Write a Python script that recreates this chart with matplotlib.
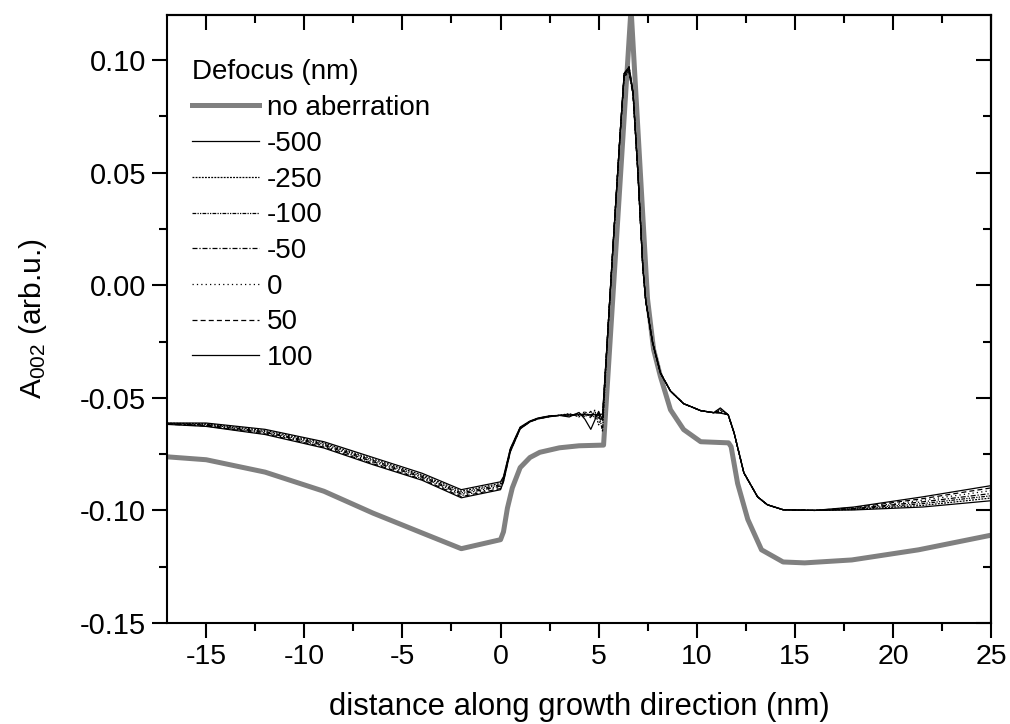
import matplotlib
matplotlib.use("Agg")
import matplotlib.pyplot as plt
from matplotlib.ticker import MultipleLocator, FormatStrFormatter

plt.rcParams["axes.unicode_minus"] = False
REG = "Liberation Sans"

# ---- data ----
x_ref = [-17, -15, -12, -9, -6.5, -4, -2, 0, 0.15, 0.35, 0.6, 1.0, 1.5, 2.0, 3.0, 4.0,
         5.25, 6.65, 7.49, 7.8, 8.15, 8.66, 9.33, 10.2, 11.62, 11.75, 12.08, 12.6, 13.3,
         14.4, 15.5, 17.9, 21.3, 25]
y_ref = [-0.0762, -0.0775, -0.0830, -0.0915, -0.1012, -0.1100, -0.1170, -0.1130, -0.1095,
         -0.0990, -0.0900, -0.0810, -0.0765, -0.0742, -0.0722, -0.0713, -0.0710, 0.1230,
         -0.0060, -0.0286, -0.0406, -0.0553, -0.0641, -0.0695, -0.0700, -0.0717, -0.0880,
         -0.1040, -0.1175, -0.1229, -0.1233, -0.1220, -0.1175, -0.1110]

x_def = [-17, -15, -12, -9, -6.5, -4, -2, 0, 0.15, 0.5, 1.0, 1.5, 1.9, 2.5, 3.0, 3.5, 4.0,
         4.3, 4.6, 4.8, 5.0, 5.2, 5.45, 5.75, 6.1, 6.3, 6.55, 6.75, 7.0, 7.25, 7.4, 7.75,
         8.15, 8.66, 9.33, 10.2, 10.86, 11.2, 11.6, 11.9, 12.4, 13.1, 13.6, 14.4, 16.0,
         18.0, 21.5, 25]

y_m500 = [-0.0612, -0.0612, -0.0640, -0.0695, -0.0765, -0.0835, -0.0908, -0.0873, -0.0850,
          -0.0725, -0.0630, -0.0603, -0.0590, -0.0580, -0.0578, -0.0585, -0.0565, -0.0595,
          -0.0640, -0.0600, -0.0560, -0.0600, -0.0230, 0.0200, 0.0680, 0.0940, 0.0970,
          0.0860, 0.0500, 0.0080, -0.0070, -0.0255, -0.0390, -0.0470, -0.0526, -0.0557,
          -0.0566, -0.0545, -0.0575, -0.0655, -0.0833, -0.0940, -0.0975, -0.0997, -0.1000,
          -0.0998, -0.0985, -0.0957]
y_m250 = [-0.0613, -0.0615, -0.0645, -0.0700, -0.0772, -0.0842, -0.0915, -0.0880, -0.0855,
          -0.0728, -0.0632, -0.0604, -0.0591, -0.0581, -0.0578, -0.0570, -0.0585, -0.0560,
          -0.0590, -0.0555, -0.0620, -0.0580, -0.0230, 0.0200, 0.0680, 0.0930, 0.0950,
          0.0850, 0.0500, 0.0080, -0.0070, -0.0255, -0.0390, -0.0470, -0.0526, -0.0557,
          -0.0566, -0.0550, -0.0575, -0.0655, -0.0833, -0.0940, -0.0975, -0.0997, -0.1000,
          -0.0996, -0.0978, -0.0945]
y_m100 = [-0.0614, -0.0618, -0.0650, -0.0706, -0.0778, -0.0848, -0.0922, -0.0886, -0.0860,
          -0.0731, -0.0634, -0.0605, -0.0592, -0.0582, -0.0578, -0.0580, -0.0568, -0.0585,
          -0.0560, -0.0590, -0.0565, -0.0650, -0.0230, 0.0200, 0.0680, 0.0935, 0.0960,
          0.0855, 0.0500, 0.0080, -0.0070, -0.0255, -0.0390, -0.0470, -0.0526, -0.0557,
          -0.0566, -0.0555, -0.0575, -0.0655, -0.0833, -0.0940, -0.0975, -0.0997, -0.1000,
          -0.0994, -0.0970, -0.0935]
y_m50 = [-0.0615, -0.0621, -0.0654, -0.0711, -0.0784, -0.0853, -0.0928, -0.0892, -0.0863,
         -0.0733, -0.0635, -0.0605, -0.0592, -0.0582, -0.0578, -0.0575, -0.0578, -0.0570,
         -0.0582, -0.0568, -0.0590, -0.0600, -0.0230, 0.0200, 0.0680, 0.0930, 0.0940,
         0.0845, 0.0500, 0.0080, -0.0070, -0.0255, -0.0390, -0.0470, -0.0526, -0.0557,
         -0.0566, -0.0560, -0.0575, -0.0655, -0.0833, -0.0940, -0.0975, -0.0997, -0.1000,
         -0.0992, -0.0962, -0.0925]
y_0 = [-0.0616, -0.0623, -0.0657, -0.0715, -0.0789, -0.0858, -0.0934, -0.0897, -0.0866,
       -0.0735, -0.0636, -0.0606, -0.0593, -0.0583, -0.0578, -0.0576, -0.0575, -0.0578,
       -0.0572, -0.0580, -0.0574, -0.0585, -0.0230, 0.0200, 0.0680, 0.0935, 0.0950,
       0.0850, 0.0500, 0.0080, -0.0070, -0.0255, -0.0390, -0.0470, -0.0526, -0.0557,
       -0.0566, -0.0563, -0.0575, -0.0655, -0.0833, -0.0940, -0.0975, -0.0997, -0.1000,
       -0.0990, -0.0955, -0.0912]
y_50 = [-0.0617, -0.0625, -0.0660, -0.0719, -0.0793, -0.0862, -0.0939, -0.0903, -0.0870,
        -0.0737, -0.0637, -0.0606, -0.0593, -0.0583, -0.0578, -0.0575, -0.0576, -0.0574,
        -0.0577, -0.0575, -0.0578, -0.0580, -0.0230, 0.0200, 0.0680, 0.0940, 0.0970,
        0.0860, 0.0500, 0.0080, -0.0070, -0.0255, -0.0390, -0.0470, -0.0526, -0.0557,
        -0.0566, -0.0566, -0.0575, -0.0655, -0.0833, -0.0940, -0.0975, -0.0997, -0.1000,
        -0.0988, -0.0948, -0.0900]
y_100 = [-0.0618, -0.0627, -0.0663, -0.0723, -0.0797, -0.0866, -0.0944, -0.0908, -0.0873,
         -0.0740, -0.0638, -0.0607, -0.0594, -0.0584, -0.0578, -0.0576, -0.0575, -0.0575,
         -0.0575, -0.0575, -0.0575, -0.0572, -0.0230, 0.0200, 0.0680, 0.0940, 0.0960,
         0.0855, 0.0500, 0.0080, -0.0070, -0.0255, -0.0390, -0.0470, -0.0526, -0.0557,
         -0.0566, -0.0568, -0.0575, -0.0655, -0.0833, -0.0940, -0.0975, -0.0997, -0.1000,
         -0.0985, -0.0940, -0.0890]

labels = ["-500", "-250", "-100", "-50", "0", "50", "100"]
series = [y_m500, y_m250, y_m100, y_m50, y_0, y_50, y_100]
styles = ["-", (0, (1.5, 1.0)), (0, (3, 1, 1, 1, 1, 1)), (0, (4, 1.5, 1, 1.5)),
          (0, (1, 2.5)), (0, (4, 2.5)), "-"]

# ---- figure ----
fig = plt.figure(figsize=(10.10, 7.24), dpi=100)
ax = fig.add_axes([0.1653, 0.1395, 0.8160, 0.8398])

ax.plot(x_ref, y_ref, color="#808080", lw=3.6, label="no aberration", zorder=2)
for ys, lab, ls in zip(series, labels, styles):
    ax.plot(x_def, ys, color="black", lw=0.9, ls=ls, label=lab, zorder=3)

ax.set_xlim(-17, 25)
ax.set_ylim(-0.15, 0.12)
ax.xaxis.set_major_locator(MultipleLocator(5))
ax.xaxis.set_minor_locator(MultipleLocator(2.5))
ax.yaxis.set_major_locator(MultipleLocator(0.05))
ax.yaxis.set_minor_locator(MultipleLocator(0.025))
ax.yaxis.set_major_formatter(FormatStrFormatter("%.2f"))

for sp in ax.spines.values():
    sp.set_linewidth(1.5)

ax.tick_params(which="major", direction="out", length=11, width=1.5, top=False, right=False)
ax.tick_params(which="minor", direction="out", length=6, width=1.5, top=False, right=False)
ax.tick_params(axis="y", labelsize=21, pad=4)
ax.tick_params(axis="x", labelsize=20.5, pad=4)
for t in ax.get_yticklabels() + ax.get_xticklabels():
    t.set_fontfamily(REG)

# inward ticks on top and right
sx = ax.secondary_xaxis("top")
sx.xaxis.set_major_locator(MultipleLocator(5))
sx.xaxis.set_minor_locator(MultipleLocator(2.5))
sx.tick_params(which="major", direction="in", length=11, width=1.5, labeltop=False)
sx.tick_params(which="minor", direction="in", length=6, width=1.5)
sx.spines["top"].set_linewidth(1.5)
sy = ax.secondary_yaxis("right")
sy.yaxis.set_major_locator(MultipleLocator(0.05))
sy.yaxis.set_minor_locator(MultipleLocator(0.025))
sy.tick_params(which="major", direction="in", length=11, width=1.5, labelright=False)
sy.tick_params(which="minor", direction="in", length=6, width=1.5)
sy.spines["right"].set_linewidth(1.5)

ax.set_xlabel("distance along growth direction (nm)", fontsize=22.3, fontfamily=REG,
              labelpad=16)
ax.set_ylabel(r"$\mathregular{A_{002}}$ (arb.u.)", fontsize=21.5, fontfamily=REG,
              labelpad=22)

leg = ax.legend(loc="upper left", bbox_to_anchor=(0.0, 0.968), frameon=False,
                title="Defocus (nm)", prop={"family": REG, "size": 20},
                title_fontproperties={"family": REG, "size": 20},
                handlelength=2.4, handletextpad=0.3, labelspacing=0.35,
                borderaxespad=0.5, alignment="left")

fig.savefig("out.png", dpi=100)
